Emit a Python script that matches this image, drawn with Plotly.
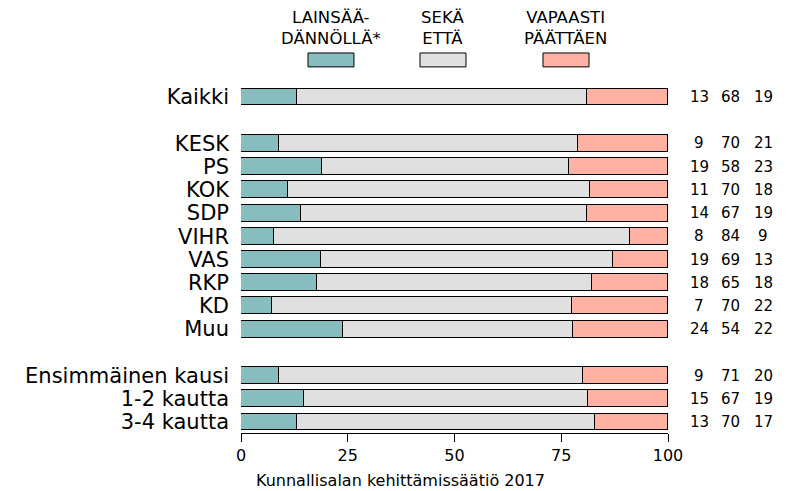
import plotly.graph_objects as go

# ---- data ----
categories = ["Kaikki", "KESK", "PS", "KOK", "SDP", "VIHR", "VAS", "RKP", "KD", "Muu",
              "Ensimmäinen kausi", "1-2 kautta", "3-4 kautta"]
groups = [0, 1, 1, 1, 1, 1, 1, 1, 1, 1, 2, 2, 2]
series_names = ["LAINSÄÄ-<br>DÄNNÖLLÄ*", "SEKÄ<br>ETTÄ", "VAPAASTI<br>PÄÄTTÄEN"]
# bar lengths (percent)
lainsaadannolla = [13.0, 9.0, 19.0, 11.1, 14.0, 7.7, 18.7, 17.8, 7.2, 24.0, 9.0, 14.8, 13.1]
seka_etta = [68.0, 69.9, 57.8, 70.6, 67.0, 83.5, 68.4, 64.5, 70.4, 53.8, 71.0, 66.5, 69.8]
vapaasti = [19.0, 21.1, 23.2, 18.3, 19.0, 8.8, 12.9, 17.7, 22.4, 22.2, 20.0, 18.7, 17.1]
# printed labels at right
lab_l = ["13", "9", "19", "11", "14", "8", "19", "18", "7", "24", "9", "15", "13"]
lab_s = ["68", "70", "58", "70", "67", "84", "69", "65", "70", "54", "71", "67", "70"]
lab_v = ["19", "21", "23", "18", "19", "9", "13", "18", "22", "22", "20", "19", "17"]
x_ticks = [0, 25, 50, 75, 100]
caption = "Kunnallisalan kehittämissäätiö 2017"

colors = ["#87BDBE", "#E0E0E0", "#FFB1A4"]
FONT = "DejaVu Sans"

# row positions: one blank row between groups
ypos = [i + g for i, g in enumerate(groups)]

fig = go.Figure()
for name, vals, col in zip(series_names, [lainsaadannolla, seka_etta, vapaasti], colors):
    fig.add_trace(go.Bar(
        x=vals, y=ypos, orientation="h", name=name, width=0.73,
        marker=dict(color=col, line=dict(color="black", width=1)),
        showlegend=False, hoverinfo="x",
    ))

# right-hand value labels
col_x = [1.0726, 1.1452, 1.2225]
for cx, labs in zip(col_x, [lab_l, lab_s, lab_v]):
    for y, t in zip(ypos, labs):
        fig.add_annotation(x=cx, y=y, xref="paper", yref="y", text=t, showarrow=False,
                           font=dict(family=FONT, size=15, color="black"),
                           xanchor="center", yanchor="middle")

# custom legend on top
leg_x = [(0.1569, 0.2646), (0.4192, 0.5269), (0.7072, 0.8150)]
for (x0, x1), col, name in zip(leg_x, colors, series_names):
    fig.add_shape(type="rect", xref="paper", yref="paper", x0=x0, x1=x1, y0=1.052, y1=1.092,
                  fillcolor=col, line=dict(color="black", width=1))
    fig.add_annotation(x=(x0 + x1) / 2, y=1.164, xref="paper", yref="paper", text=name,
                       showarrow=False, font=dict(family=FONT, size=16.5, color="black"),
                       xanchor="center", yanchor="middle", align="center")

fig.add_annotation(x=0.373, y=-0.137, xref="paper", yref="paper", text=caption,
                   showarrow=False, font=dict(family=FONT, size=16, color="black"),
                   xanchor="center", yanchor="middle")

fig.update_layout(
    width=789, height=491,
    margin=dict(l=241, r=121, t=85, b=58),
    barmode="stack", bargap=0,
    plot_bgcolor="white", paper_bgcolor="white",
    font=dict(family=FONT, color="black"),
    xaxis=dict(range=[0, 100], tickvals=x_ticks, ticks="outside", ticklen=8, tickwidth=1,
               tickcolor="black", showline=True, linecolor="black", linewidth=1,
               showgrid=False, zeroline=False, tickfont=dict(family=FONT, size=16)),
    yaxis=dict(range=[14.474, -0.517], tickvals=ypos, ticktext=categories, ticks="",
               showgrid=False, zeroline=False, showline=False, ticklabelstandoff=11,
               tickfont=dict(family=FONT, size=21)),
)

fig.write_html("out.html", config={"displayModeBar": False},
               post_script="document.body.style.margin='0';document.body.style.overflow='hidden';")
